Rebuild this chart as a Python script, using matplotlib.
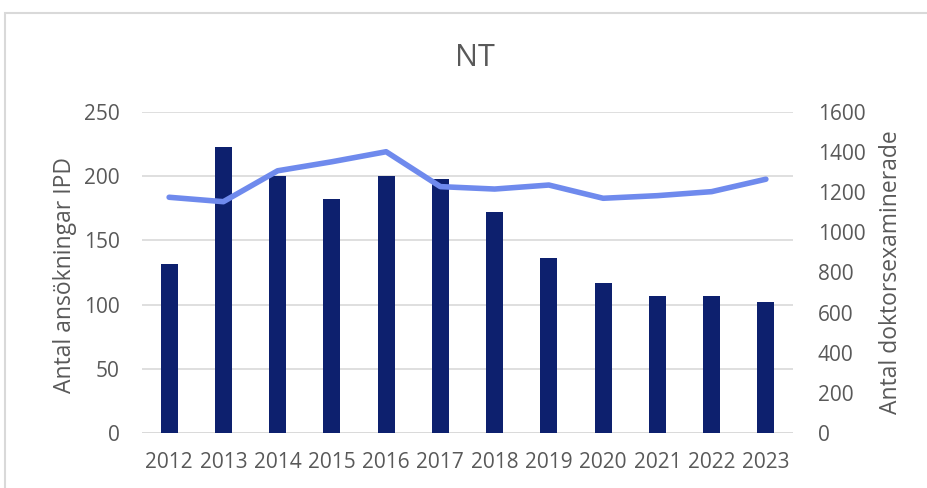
import matplotlib
matplotlib.use("Agg")
import matplotlib.pyplot as plt
from matplotlib.patches import Rectangle

years = ["2012", "2013", "2014", "2015", "2016", "2017", "2018", "2019", "2020", "2021", "2022", "2023"]
applications = [132, 223, 200, 182, 200, 198, 172, 136, 117, 107, 107, 102]
doctorates = [1175, 1153, 1307, 1352, 1402, 1228, 1216, 1236, 1170, 1183, 1203, 1265]
left_ticks = [0, 50, 100, 150, 200, 250]
right_ticks = [0, 200, 400, 600, 800, 1000, 1200, 1400, 1600]

plt.rcParams['font.family'] = ['Open Sans', 'DejaVu Sans']
txt = "#595959"

fig = plt.figure(figsize=(9.28, 4.88), dpi=100)
ax = fig.add_axes([142/928, 1 - 433/488, (793 - 142)/928, (433 - 112)/488])
ax2 = ax.twinx()

x = list(range(len(years)))
ax.bar(x, applications, width=0.31, color="#0d206e", zorder=3)
ax2.plot(x, doctorates, color="#6f8aed", lw=4, solid_capstyle="round", zorder=4)

ax.set_xlim(-0.5, len(years) - 0.5)
ax.set_ylim(0, 250)
ax2.set_ylim(0, 1600)
ax.set_yticks(left_ticks)
ax2.set_yticks(right_ticks)
ax.set_xticks(x)
ax.set_xticklabels(years)
ax.yaxis.grid(True, color="#d9d9d9", lw=1.2, zorder=0)
ax.set_axisbelow(True)
ax.set_zorder(ax2.get_zorder() - 1)
ax.patch.set_visible(False)
ax2.patch.set_visible(False)

for a in (ax, ax2):
    for s in a.spines.values():
        s.set_visible(False)
    a.tick_params(length=0, colors=txt, labelsize=15)
ax.tick_params(axis='y', pad=16)
ax2.tick_params(axis='y', pad=18)
ax.tick_params(axis='x', pad=14)
ax.axhline(0, color="#d9d9d9", lw=1.2, zorder=1)

ax.set_ylabel("Antal ansökningar IPD", color=txt, fontsize=16.5)
ax2.set_ylabel("Antal doktorsexaminerade", color=txt, fontsize=16.5)
ax.yaxis.set_label_coords(77/928, 1 - 275/488, transform=fig.transFigure)
ax2.yaxis.set_label_coords(879/928, 1 - 272/488, transform=fig.transFigure)
fig.text(475/928, 1 - 58/488, "NT", ha="center", va="center", fontsize=22, color=txt)

fig.patches.append(Rectangle((5/928, -0.1), 1.2, 1 - 13/488 + 0.1, transform=fig.transFigure,
                             fill=False, edgecolor="#d9d9d9", lw=1.5))

fig.savefig("out.png", dpi=100)
